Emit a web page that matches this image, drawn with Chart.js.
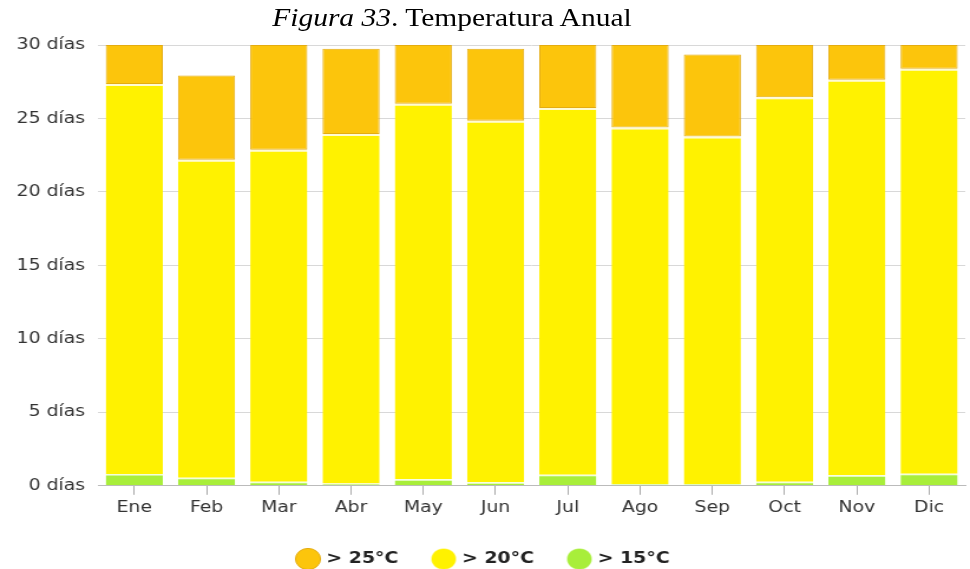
<!DOCTYPE html>
<html>
<head>
<meta charset="utf-8">
<script src="https://cdn.jsdelivr.net/npm/chart.js@4"></script>
<style>
  html, body { margin: 0; padding: 0; background: #fff; overflow: hidden; }
  #wrap { position: relative; width: 822px; height: 569px; transform: scaleX(1.18); transform-origin: 0 0; }
  #title {
    position: absolute; top: 3px; left: 0; width: 766px; text-align: center; line-height: 29px;
    font-family: "Liberation Serif", "Times New Roman", serif; font-size: 25px; color: #000;
  }
  canvas { display: block; }
</style>
</head>
<body>
<div id="wrap">
  <div id="title"><i>Figura 33</i>. Temperatura Anual</div>
  <canvas id="chart" width="822" height="569"></canvas>
</div>
<script>
const months = ["Ene", "Feb", "Mar", "Abr", "May", "Jun", "Jul", "Ago", "Sep", "Oct", "Nov", "Dic"];
const yTicks = [0, 5, 10, 15, 20, 25, 30];

// days per month in each band (stacked bottom to top)
const over15 = [0.8, 0.55, 0.27, 0.15, 0.45, 0.25, 0.75, 0.12, 0.12, 0.27, 0.72, 0.82];
const over20 = [26.55, 21.64, 22.6, 23.79, 25.55, 24.6, 24.97, 24.27, 23.66, 26.17, 26.91, 27.56];
const over25 = [2.65, 5.73, 7.13, 5.8, 4.0, 4.89, 4.28, 5.61, 5.57, 3.56, 2.37, 1.62];

const ctx = document.getElementById("chart");

new Chart(ctx, {
  type: 'bar',
  data: {
    labels: months,
    datasets: [
      {
        label: '> 15°C',
        data: over15,
        backgroundColor: '#A8EE3A',
        borderColor: '#F2FFDC',
        borderWidth: { top: 1.5, left: 0, right: 0, bottom: 0 },
        borderSkipped: false
      },
      {
        label: '> 20°C',
        data: over20,
        backgroundColor: '#FFF200',
        borderColor: '#FFFBD2',
        borderWidth: { top: 2, left: 0, right: 0, bottom: 0 },
        borderSkipped: false
      },
      {
        label: '> 25°C',
        data: over25,
        backgroundColor: '#FCC50C',
        borderColor: '#E4AC10',
        borderWidth: 1,
        borderSkipped: false
      }
    ]
  },
  options: {
    responsive: false,
    animation: false,
    layout: { padding: { top: 45, right: 4, left: 3, bottom: -8 } },
    datasets: { bar: { categoryPercentage: 1.0, barPercentage: 0.79 } },
    scales: {
      x: {
        stacked: true,
        grid: { display: true, offset: false, drawOnChartArea: false, color: '#aaa', tickLength: 9 },
        border: { color: '#bbb' },
        ticks: { color: '#333', font: { family: 'DejaVu Sans', size: 16 }, padding: 3 }
      },
      y: {
        stacked: true,
        min: 0,
        max: 30,
        afterBuildTicks: axis => { axis.ticks = yTicks.map(v => ({ value: v })); },
        grid: { color: '#d8d8d8', drawTicks: false },
        border: { display: false },
        ticks: {
          color: '#333',
          font: { family: 'DejaVu Sans', size: 16 },
          padding: 11,
          callback: v => v + ' días'
        }
      }
    },
    plugins: {
      legend: {
        position: 'bottom',
        reverse: true,
        labels: {
          usePointStyle: true,
          pointStyle: 'circle',
          boxWidth: 15,
          boxHeight: 15,
          padding: 31,
          color: '#222',
          font: { family: 'DejaVu Sans', size: 16, weight: 'bold' }
        }
      },
      tooltip: { enabled: false }
    }
  }
});
</script>
</body>
</html>
